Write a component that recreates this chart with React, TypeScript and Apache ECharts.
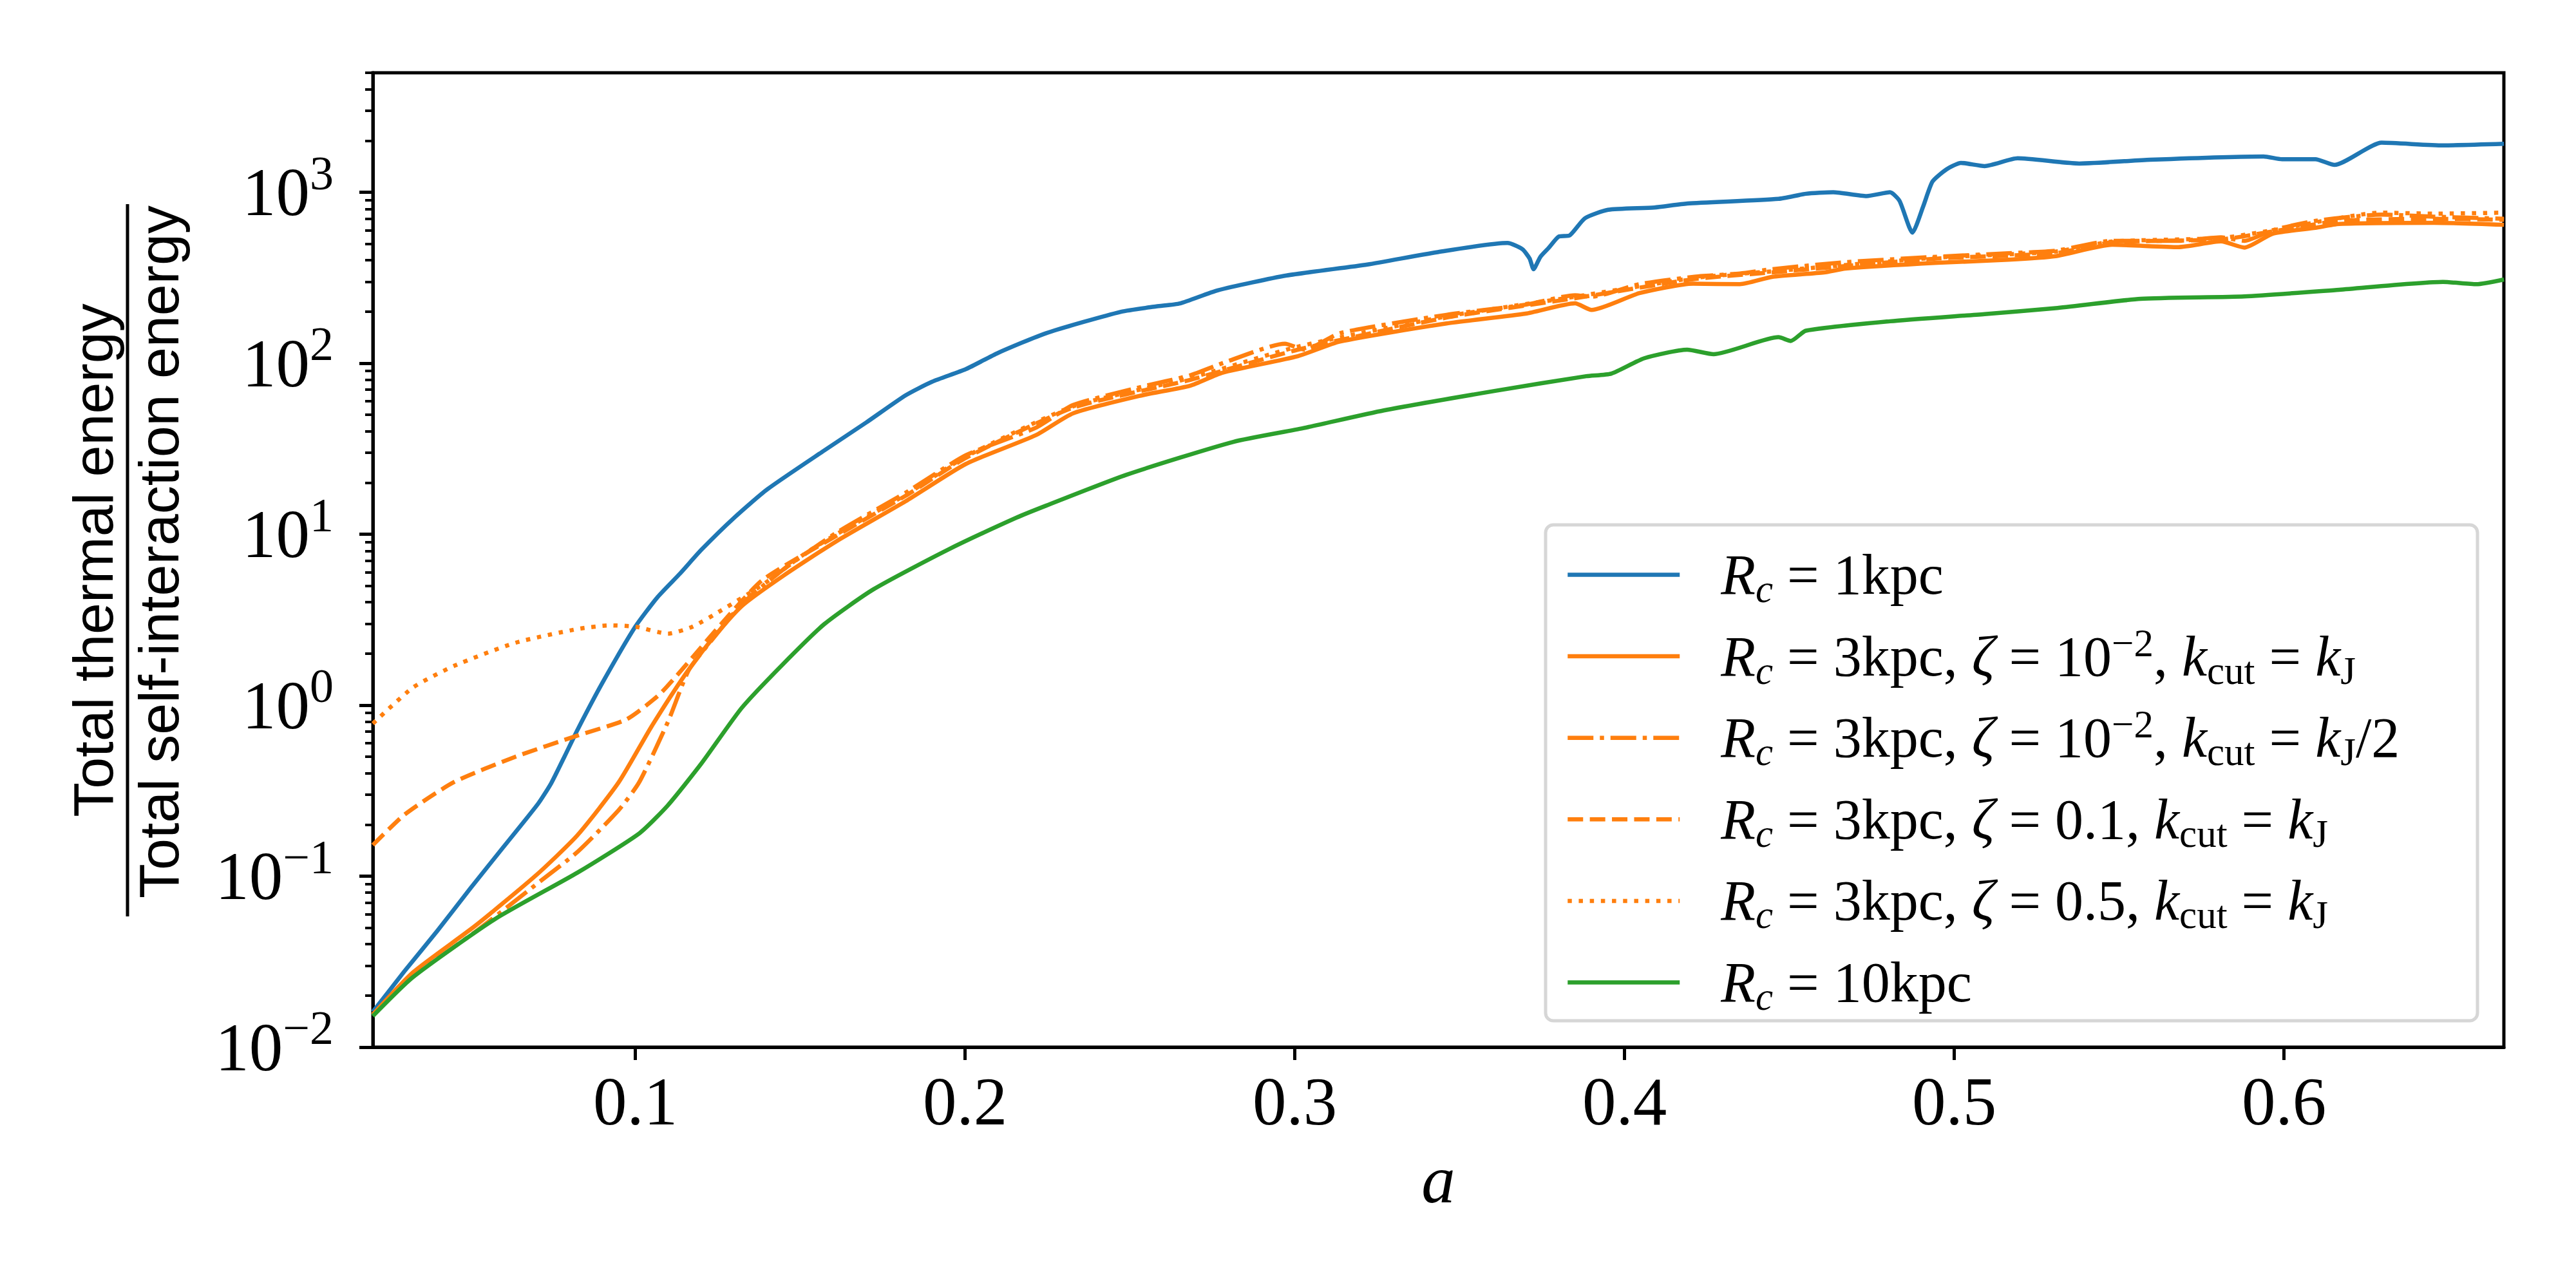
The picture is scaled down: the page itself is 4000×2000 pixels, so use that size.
import React, { useEffect, useRef } from 'react';
import * as echarts from 'echarts';

// ---------- axis ranges & ticks ----------
const A_MIN = 1 / 49;
const A_MAX = 2 / 3;
const Y_MIN = 0.01;
const Y_MAX = 5000;
const X_TICKS = [0.1, 0.2, 0.3, 0.4, 0.5, 0.6];
const Y_TICKS = [0.01, 0.1, 1, 10, 100, 1000];
const Y_MINOR = [
  0.02, 0.03, 0.04, 0.05, 0.06, 0.07, 0.08, 0.09,
  0.2, 0.3, 0.4, 0.5, 0.6, 0.7, 0.8, 0.9,
  2, 3, 4, 5, 6, 7, 8, 9,
  20, 30, 40, 50, 60, 70, 80, 90,
  200, 300, 400, 500, 600, 700, 800, 900,
  2000, 3000, 4000, 5000,
];

// ---------- series data ----------
// R_c = 1 kpc
const blueA = [0.0204, 0.03, 0.04, 0.05, 0.06, 0.0705, 0.0745, 0.0785, 0.0825, 0.09, 0.1, 0.1068, 0.1136, 0.12, 0.13, 0.14, 0.1574, 0.17, 0.182, 0.19, 0.2003, 0.21, 0.2246, 0.2473, 0.258, 0.2652, 0.2766, 0.2975, 0.322, 0.343, 0.3645, 0.369, 0.3712, 0.3724, 0.3745, 0.377, 0.38, 0.3834, 0.388, 0.395, 0.409, 0.419, 0.4467, 0.455, 0.4633, 0.4734, 0.4805, 0.4834, 0.4873, 0.4906, 0.4934, 0.4977, 0.502, 0.5092, 0.5192, 0.5379, 0.5594, 0.5938, 0.5994, 0.6095, 0.6153, 0.6296, 0.6482, 0.6667];
const blueV = [0.0161, 0.0278, 0.048, 0.085, 0.148, 0.265, 0.35, 0.5, 0.72, 1.35, 2.88, 4.3, 5.9, 8.1, 12.5, 18.3, 31, 45, 65, 78, 92.5, 115, 150, 200, 215, 224, 267, 326, 378, 446, 505, 465, 410, 355, 420, 473, 550, 560, 705, 790, 815, 860, 915, 980, 1000, 950, 1000, 890, 581, 830, 1156, 1365, 1486, 1423, 1580, 1473, 1550, 1620, 1560, 1560, 1445, 1950, 1880, 1920];

// R_c = 3 kpc, zeta = 1e-2, kcut = kJ
const solidA = [0.0204, 0.0326, 0.0513, 0.07, 0.0825, 0.095, 0.1049, 0.1149, 0.1224, 0.1323, 0.1448, 0.161, 0.182, 0.2003, 0.2215, 0.2328, 0.2538, 0.2683, 0.278, 0.3009, 0.3137, 0.346, 0.37, 0.385, 0.39, 0.4045, 0.4208, 0.435, 0.4447, 0.4605, 0.467, 0.495, 0.5164, 0.5307, 0.5479, 0.568, 0.5809, 0.588, 0.5966, 0.6095, 0.6167, 0.6454, 0.6667];
const solidV = [0.0155, 0.0274, 0.051, 0.1016, 0.174, 0.355, 0.75, 1.49, 2.32, 3.8, 5.7, 9.1, 15.6, 25.8, 38, 51, 65, 74, 88, 110, 134, 171, 195, 224, 205, 257, 292, 290, 320, 340, 358, 387, 403, 423, 493, 478, 516, 475, 573, 620, 653, 663, 645];

// R_c = 3 kpc, zeta = 1e-2, kcut = kJ/2
const dashDotA = [0.0204, 0.0326, 0.0513, 0.07, 0.0825, 0.095, 0.1012, 0.1099, 0.1161, 0.1224, 0.1323, 0.1448, 0.161, 0.182, 0.2003, 0.2215, 0.2328, 0.2538, 0.2683, 0.278, 0.297, 0.303, 0.3137, 0.346, 0.37, 0.385, 0.39, 0.4045, 0.4208, 0.435, 0.4447, 0.467, 0.495, 0.5164, 0.5307, 0.5479, 0.568, 0.5809, 0.588, 0.5966, 0.6095, 0.6296, 0.6454, 0.6667];
const dashDotV = [0.0155, 0.026, 0.047, 0.0897, 0.139, 0.244, 0.355, 0.8, 1.59, 2.3, 3.9, 6.2, 10.2, 17.5, 29, 42, 57, 73, 85, 100, 130, 120, 150, 192, 220, 250, 245, 290, 320, 335, 355, 390, 420, 440, 455, 520, 520, 545, 520, 600, 680, 740, 720, 700];

// R_c = 3 kpc, zeta = 0.1, kcut = kJ
const dashedA = [0.0204, 0.03, 0.045, 0.0637, 0.0825, 0.0973, 0.1074, 0.1174, 0.126, 0.1386, 0.161, 0.182, 0.2003, 0.2328, 0.2683, 0.3009, 0.346, 0.385, 0.4208, 0.4447, 0.495, 0.5307, 0.5479, 0.5809, 0.5966, 0.6167, 0.6454, 0.6667];
const dashedV = [0.152, 0.229, 0.355, 0.5, 0.665, 0.826, 1.16, 1.91, 2.98, 5.4, 9.8, 16.8, 28, 55, 80, 120, 185, 240, 310, 340, 410, 440, 510, 530, 590, 680, 700, 690];

// R_c = 3 kpc, zeta = 0.5, kcut = kJ
const dottedA = [0.0204, 0.0326, 0.0451, 0.0637, 0.0825, 0.0925, 0.1, 0.1099, 0.1174, 0.126, 0.1386, 0.151, 0.161, 0.182, 0.2003, 0.2328, 0.2683, 0.3009, 0.346, 0.385, 0.4208, 0.4447, 0.495, 0.5307, 0.5479, 0.5809, 0.5966, 0.6296, 0.6454, 0.6667];
const dottedV = [0.78, 1.27, 1.7, 2.32, 2.79, 2.93, 2.88, 2.62, 2.88, 3.58, 5.06, 7.6, 10, 17, 28.5, 56, 82, 125, 188, 245, 315, 345, 415, 450, 515, 540, 600, 760, 750, 760];

// R_c = 10 kpc
const greenA = [0.0204, 0.0326, 0.0575, 0.0825, 0.1012, 0.1099, 0.12, 0.1323, 0.1448, 0.1573, 0.1722, 0.1947, 0.2156, 0.2246, 0.249, 0.2814, 0.3025, 0.327, 0.3608, 0.3884, 0.396, 0.406, 0.419, 0.427, 0.4467, 0.4504, 0.455, 0.4805, 0.5092, 0.5307, 0.5565, 0.588, 0.6167, 0.6482, 0.6583, 0.6667];
const greenV = [0.0152, 0.0257, 0.0562, 0.105, 0.178, 0.26, 0.455, 0.966, 1.74, 2.98, 4.76, 8.1, 12.5, 14.7, 22.3, 34.7, 41.7, 53, 69, 84, 87, 107, 120, 113, 142, 135, 155, 176, 194, 210, 238, 246, 269, 299, 290, 309];

const SERIES_NAMES = ['s1', 's2', 's3', 's4', 's5', 's6'];
const LEGEND_TEXT: Record<string, string> = {
  s1: '{sp| }{it|R}{sub|c}{rm| = 1kpc}',
  s2: '{sp| }{it|R}{sub|c}{rm| = 3kpc, }{it|ζ}{rm| = 10}{sup|\u22122}{rm|, }{it|k}{subr|cut}{rm| = }{it|k}{subr|J}',
  s3: '{sp| }{it|R}{sub|c}{rm| = 3kpc, }{it|ζ}{rm| = 10}{sup|\u22122}{rm|, }{it|k}{subr|cut}{rm| = }{it|k}{subr|J}{rm|/2}',
  s4: '{sp| }{it|R}{sub|c}{rm| = 3kpc, }{it|ζ}{rm| = 0.1, }{it|k}{subr|cut}{rm| = }{it|k}{subr|J}',
  s5: '{sp| }{it|R}{sub|c}{rm| = 3kpc, }{it|ζ}{rm| = 0.5, }{it|k}{subr|cut}{rm| = }{it|k}{subr|J}',
  s6: '{sp| }{it|R}{sub|c}{rm| = 10kpc}',
};

const BLUE = '#1f77b4';
const ORANGE = '#ff7f0e';
const GREEN = '#2ca02c';
const SERIF = '"Liberation Serif", "DejaVu Serif", serif';
const SANS = '"Liberation Sans", Arial, sans-serif';
const LW = 6.5;

function pairs(xs: number[], ys: number[]) {
  return xs.map((x, i) => [x, ys[i]]);
}

function lineSeries(name: string, xs: number[], ys: number[], color: string, type: any, z: number) {
  return {
    name,
    type: 'line',
    data: pairs(xs, ys),
    symbol: 'none',
    showSymbol: false,
    smooth: 0.2,
    z,
    lineStyle: { color, width: LW, type, cap: 'butt', join: 'round' },
    itemStyle: { color },
    emphasis: { disabled: true },
  };
}

export default function App() {
  const ref = useRef<HTMLDivElement>(null);

  useEffect(() => {
    if (!ref.current) return;
    document.body.style.margin = '0';
    const chart = echarts.init(ref.current, null, { renderer: 'svg', width: 4000, height: 2000 });

    const LF = 88;
    const LH = 90;
    const SF = 61;
    const legendRich = {
      sp: { width: 59, fontSize: LF, lineHeight: LH, fontFamily: SERIF },
      it: { fontFamily: SERIF, fontStyle: 'italic', fontSize: LF, lineHeight: LH, color: '#000' },
      rm: { fontFamily: SERIF, fontSize: LF, lineHeight: LH, color: '#000' },
      sub: { fontFamily: SERIF, fontStyle: 'italic', fontSize: SF, lineHeight: LH, padding: [44, 0, 0, 0], color: '#000' },
      subr: { fontFamily: SERIF, fontSize: SF, lineHeight: LH, padding: [44, 0, 0, 0], color: '#000' },
      sup: { fontFamily: SERIF, fontSize: SF, lineHeight: LH, padding: [0, 0, 42, 0], color: '#000' },
    };

    const option: any = {
      animation: false,
      backgroundColor: '#ffffff',
      grid: {
        left: 579,
        right: 112,
        top: 113,
        bottom: 374,
        show: true,
        borderColor: '#000',
        borderWidth: 5,
        backgroundColor: 'transparent',
      },
      xAxis: {
        type: 'value',
        min: A_MIN,
        max: A_MAX,
        axisLine: { show: true, onZero: false, lineStyle: { color: '#000', width: 5 } },
        axisTick: { show: true, length: 20, lineStyle: { color: '#000', width: 5 }, customValues: X_TICKS },
        axisLabel: {
          customValues: X_TICKS,
          formatter: (v: number) => v.toFixed(1),
          fontFamily: SERIF,
          fontSize: 105,
          color: '#000',
          margin: 32,
        },
        splitLine: { show: false },
        name: 'a',
        nameLocation: 'middle',
        nameGap: 153,
        nameTextStyle: { fontFamily: SERIF, fontStyle: 'italic', fontSize: 105, color: '#000' },
      },
      yAxis: [
        {
          type: 'log',
          logBase: 10,
          min: Y_MIN,
          max: Y_MAX,
          position: 'left',
          axisLine: { show: true, lineStyle: { color: '#000', width: 5 } },
          axisTick: { show: true, length: 21, lineStyle: { color: '#000', width: 5 }, customValues: Y_TICKS },
          axisLabel: {
            customValues: Y_TICKS,
            margin: 61,
            formatter: (v: number) => {
              const e = Math.round(Math.log10(v));
              return '{b|10}{s|' + (e < 0 ? '\u2212' : '') + Math.abs(e) + '}';
            },
            rich: {
              b: { fontFamily: SERIF, fontSize: 105, lineHeight: 120, color: '#000' },
              s: { fontFamily: SERIF, fontSize: 74, lineHeight: 120, padding: [0, 0, 60, 0], color: '#000' },
            },
          },
          splitLine: { show: false },
          minorTick: { show: false },
        },
        {
          type: 'log',
          logBase: 10,
          min: Y_MIN,
          max: Y_MAX,
          position: 'left',
          axisLine: { show: false },
          axisTick: { show: true, length: 12, lineStyle: { color: '#000', width: 4 }, customValues: Y_MINOR },
          axisLabel: { show: false },
          splitLine: { show: false },
        },
      ],
      legend: {
        orient: 'vertical',
        left: 2431,
        top: 840,
        padding: 0,
        itemWidth: 174,
        itemHeight: 2,
        itemGap: 21.6,
        selectedMode: false,
        data: SERIES_NAMES,
        formatter: (name: string) => LEGEND_TEXT[name],
        itemStyle: { opacity: 0, borderWidth: 0 },
        lineStyle: { width: LW, cap: 'butt' },
        textStyle: { color: '#000', fontFamily: SERIF, fontSize: LF, lineHeight: LH, rich: legendRich },
        z: 5,
      },
      graphic: [
        {
          type: 'rect',
          z: 4,
          shape: { x: 2400, y: 815, width: 1447, height: 770, r: 12 },
          style: { fill: 'rgba(255,255,255,0.8)', stroke: '#d6d6d6', lineWidth: 5 },
        },
        {
          type: 'group',
          x: 198,
          y: 870,
          rotation: Math.PI / 2,
          children: [
            {
              type: 'text',
              x: 0,
              y: -10,
              style: {
                text: 'Total thermal energy',
                fontFamily: SANS,
                fontSize: 88,
                fill: '#000',
                align: 'center',
                verticalAlign: 'bottom',
                textAlign: 'center',
                textVerticalAlign: 'bottom',
              },
            },
            {
              type: 'line',
              shape: { x1: -553, y1: 0, x2: 553, y2: 0 },
              style: { stroke: '#000', lineWidth: 5 },
            },
            {
              type: 'text',
              x: 13,
              y: 4,
              style: {
                text: 'Total self-interaction energy',
                fontFamily: SANS,
                fontSize: 88,
                fill: '#000',
                align: 'center',
                verticalAlign: 'top',
                textAlign: 'center',
                textVerticalAlign: 'top',
              },
            },
          ],
        },
      ],
      series: [
        lineSeries('s1', blueA, blueV, BLUE, 'solid', 2),
        lineSeries('s2', solidA, solidV, ORANGE, 'solid', 3),
        lineSeries('s3', dashDotA, dashDotV, ORANGE, [40, 10, 6.5, 10], 3),
        lineSeries('s4', dashedA, dashedV, ORANGE, [24, 10.4], 3),
        lineSeries('s5', dottedA, dottedV, ORANGE, [6.5, 10.7], 3),
        lineSeries('s6', greenA, greenV, GREEN, 'solid', 3),
      ],
    };

    chart.setOption(option);
    return () => chart.dispose();
  }, []);

  return (
    <div
      ref={ref}
      style={{ position: 'absolute', left: 0, top: 0, width: 4000, height: 2000, background: '#fff' }}
    />
  );
}
